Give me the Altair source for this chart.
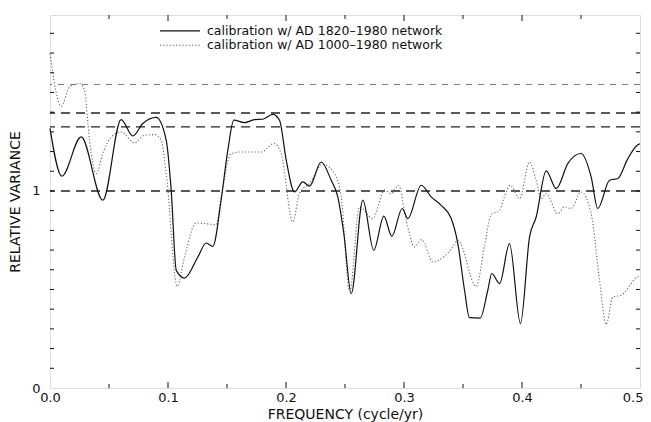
import altair as alt
import pandas as pd

# ---- data ----
solid_x = [0.000, 0.010, 0.0264, 0.0448, 0.0603, 0.0702, 0.0787, 0.090, 0.0985, 0.1027,
           0.107, 0.114, 0.1253, 0.1324, 0.138, 0.145, 0.1507, 0.1558, 0.1648, 0.1733,
           0.1803, 0.1888, 0.1945, 0.2002, 0.2072, 0.2142, 0.220, 0.2298, 0.2383, 0.2439,
           0.249, 0.2553, 0.2651, 0.2744, 0.2829, 0.2897, 0.2985, 0.3032, 0.3146, 0.323,
           0.3315, 0.340, 0.3456, 0.3513, 0.3555, 0.3646, 0.371, 0.3744, 0.381, 0.3894,
           0.3987, 0.4064, 0.412, 0.4205, 0.429, 0.4388, 0.450, 0.4586, 0.4642, 0.4742,
           0.4812, 0.4897, 0.4976, 0.500]
solid_y = [1.318, 1.075, 1.274, 0.953, 1.362, 1.279, 1.342, 1.373, 1.257, 1.004,
           0.597, 0.558, 0.665, 0.736, 0.719, 0.953, 1.207, 1.359, 1.347, 1.362,
           1.364, 1.389, 1.359, 1.156, 0.995, 1.046, 1.025, 1.147, 1.054, 0.970,
           0.784, 0.479, 0.953, 0.699, 0.872, 0.770, 0.911, 0.860, 1.029, 0.970,
           0.927, 0.860, 0.733, 0.496, 0.357, 0.355, 0.496, 0.581, 0.530, 0.733,
           0.327, 0.767, 0.868, 1.102, 1.012, 1.139, 1.190, 1.071, 0.911, 1.054,
           1.063, 1.164, 1.232, 1.240]

dotted_x = [0.000, 0.0095, 0.0165, 0.025, 0.0292, 0.0335, 0.0392, 0.0447, 0.0519, 0.0603,
            0.0716, 0.080, 0.0886, 0.0942, 0.0985, 0.1078, 0.114, 0.1239, 0.1408, 0.145,
            0.1536, 0.162, 0.179, 0.1897, 0.1959, 0.2058, 0.2114, 0.220, 0.2312, 0.2411,
            0.2468, 0.254, 0.2623, 0.2736, 0.2835, 0.2892, 0.2953, 0.3019, 0.3089, 0.3151,
            0.3244, 0.3343, 0.3414, 0.3456, 0.3612, 0.3682, 0.3739, 0.381, 0.385, 0.390,
            0.3979, 0.4064, 0.412, 0.4163, 0.4205, 0.4303, 0.436, 0.4417, 0.450, 0.4586,
            0.4657, 0.4713, 0.477, 0.484, 0.4976, 0.500]
dotted_y = [1.697, 1.430, 1.528, 1.545, 1.511, 1.257, 1.088, 1.190, 1.274, 1.299,
            1.244, 1.283, 1.286, 1.257, 1.088, 0.516, 0.665, 0.838, 0.829, 0.970,
            1.190, 1.198, 1.198, 1.241, 1.190, 0.843, 0.987, 1.038, 1.136, 1.088,
            0.970, 0.490, 0.919, 0.860, 1.004, 0.987, 1.029, 0.851, 0.716, 0.753,
            0.640, 0.669, 0.716, 0.750, 0.516, 0.720, 0.880, 0.902, 0.970, 1.029,
            0.961, 1.147, 1.054, 0.961, 0.987, 0.885, 0.919, 0.911, 0.995, 0.885,
            0.547, 0.322, 0.462, 0.471, 0.563, 0.570]

thick_levels = [1.0, 1.325, 1.396]
thin_levels = [1.54]

legend_labels = ["calibration w/ AD 1820\u20131980 network",
                 "calibration w/ AD 1000\u20131980 network"]

x_labels = [0.0, 0.1, 0.2, 0.3, 0.4, 0.5]
x_minor = [0.05, 0.15, 0.25, 0.35, 0.45]
y_labels = [0, 1]
y_minor = [round(0.1 * i, 1) for i in range(1, 19)]

W, H = 590, 373
FONT = "DejaVu Sans"
X_TITLE = "FREQUENCY (cycle/yr)"
Y_TITLE = "RELATIVE VARIANCE"

xs = alt.Scale(domain=[0, 0.5], nice=False, zero=False)
ys = alt.Scale(domain=[0, 1.893], nice=False, zero=False)

X_AX = alt.Axis(values=x_labels, format=".1f", ticks=False, domain=False, grid=False,
                labelFlush=False,
                labelAlign=alt.condition("datum.value >= 0.5", alt.value("right"), alt.value("center")),
                labelOffset=alt.condition("datum.value >= 0.5", alt.value(3), alt.value(0)),
                labelFontSize=13, labelFont=FONT, labelColor="#111",
                labelPadding=3, titleFont=FONT, titleFontSize=14, titleFontWeight="normal",
                titleColor="#111", titlePadding=3)
Y_AX = alt.Axis(values=y_labels, format="d", ticks=False, domain=False, grid=False,
                labelFlush=False, labelFontSize=13, labelFont=FONT, labelColor="#111",
                labelPadding=10, titleFont=FONT, titleFontSize=14, titleFontWeight="normal",
                titleColor="#111", titlePadding=9)


def X(field):
    return alt.X(field, scale=xs, title=X_TITLE, axis=X_AX)


def Y(field):
    return alt.Y(field, scale=ys, title=Y_TITLE, axis=Y_AX)


solid_df = pd.DataFrame({"f": solid_x, "v": solid_y})
dotted_df = pd.DataFrame({"f": dotted_x, "v": dotted_y})

solid = alt.Chart(solid_df).mark_line(color="#111", strokeWidth=1.2, interpolate="monotone").encode(
    x=X("f:Q"), y=Y("v:Q"))

dotted = alt.Chart(dotted_df).mark_line(color="#666", strokeWidth=1.1, strokeDash=[1.2, 2],
                                        interpolate="monotone").encode(
    x=X("f:Q"), y=Y("v:Q"))

thick = alt.Chart(pd.DataFrame({"v": thick_levels})).mark_rule(
    color="#222", strokeWidth=1.4, strokeDash=[9, 6]).encode(y=Y("v:Q"))
thin = alt.Chart(pd.DataFrame({"v": thin_levels})).mark_rule(
    color="#777", strokeWidth=1, strokeDash=[6, 6]).encode(y=Y("v:Q"))


def xticks(vals, length):
    d = pd.DataFrame({"f": vals})
    b = alt.Chart(d).mark_rule(color="#111", strokeWidth=1).encode(
        x=X("f:Q"), y=alt.value(H), y2=alt.value(H - length))
    t = alt.Chart(d).mark_rule(color="#111", strokeWidth=1).encode(
        x=X("f:Q"), y=alt.value(0), y2=alt.value(length))
    return [b, t]


def yticks(vals, length):
    d = pd.DataFrame({"v": vals})
    l = alt.Chart(d).mark_rule(color="#111", strokeWidth=1).encode(
        y=Y("v:Q"), x=alt.value(0), x2=alt.value(length))
    r = alt.Chart(d).mark_rule(color="#111", strokeWidth=1).encode(
        y=Y("v:Q"), x=alt.value(W), x2=alt.value(W - length))
    return [l, r]


ticks = xticks(x_labels[1:-1], 6) + xticks(x_minor, 4) + yticks(y_minor, 4)

leg1 = pd.DataFrame({"label": legend_labels[:1]})
leg2 = pd.DataFrame({"label": legend_labels[1:]})

leg_solid = alt.Chart(leg1).mark_rule(color="#111", strokeWidth=1.2).encode(
    x=alt.value(110), x2=alt.value(150), y=alt.value(15.8))
leg_dot = alt.Chart(leg2).mark_rule(color="#666", strokeWidth=1.1, strokeDash=[1.2, 2]).encode(
    x=alt.value(110), x2=alt.value(150), y=alt.value(30.2))
leg_t1 = alt.Chart(leg1).mark_text(align="left", baseline="middle",
                                   font=FONT, fontSize=12.5, color="#111").encode(
    text="label:N", x=alt.value(157), y=alt.value(15.8))
leg_t2 = alt.Chart(leg2).mark_text(align="left", baseline="middle",
                                   font=FONT, fontSize=12.5, color="#111").encode(
    text="label:N", x=alt.value(157), y=alt.value(30.2))

chart = alt.layer(thin, thick, dotted, solid, *ticks, leg_solid, leg_dot, leg_t1, leg_t2).properties(
    width=W, height=H,
    autosize=alt.AutoSizeParams(type="none"),
    padding={"left": 42, "top": 7, "right": 3, "bottom": 34},
).configure_view(stroke="#111", strokeWidth=1.2).configure(background="white")

chart.save("out.html", embed_options={"renderer": "svg", "actions": False})
